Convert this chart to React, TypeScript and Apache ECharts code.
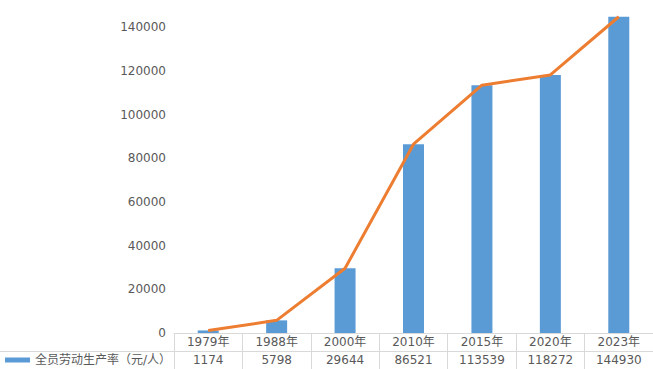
import React, { useEffect, useRef } from "react";
import * as echarts from "echarts";

const categories = ["1979年", "1988年", "2000年", "2010年", "2015年", "2020年", "2023年"];
const productivity = [1174, 5798, 29644, 86521, 113539, 118272, 144930];
const seriesName = "全员劳动生产率（元/人）";
const yMin = 0;
const yMax = 146000;
const yInterval = 20000;

const FONT = "'DejaVu Sans', 'Noto Sans CJK SC', sans-serif";
const TEXT = "#595959";
const BORDER = "#d9d9d9";

export default function App() {
  const ref = useRef<HTMLDivElement>(null);
  useEffect(() => {
    if (!ref.current) return;
    const chart = echarts.init(ref.current, undefined, { renderer: "svg" });
    chart.setOption({
      animation: false,
      textStyle: { fontFamily: FONT },
      grid: { left: 174, top: 14.4, bottom: 36, width: 483 },
      legend: {
        data: [seriesName],
        left: 5,
        top: 354,
        itemWidth: 25,
        itemHeight: 5,
        itemGap: 10,
        icon: "rect",
        textStyle: { color: TEXT, fontSize: 12, fontFamily: FONT },
        padding: 0,
      },
      xAxis: [
        {
          type: "category",
          data: categories,
          position: "bottom",
          axisLine: { show: true, lineStyle: { color: BORDER, width: 1 } },
          axisTick: { show: true, length: 36, interval: 0, lineStyle: { color: BORDER, width: 1 } },
          axisLabel: { color: TEXT, fontSize: 12, margin: 2, lineHeight: 14, interval: 0, fontFamily: FONT },
        },
        {
          type: "category",
          data: productivity.map((v) => String(v)),
          position: "bottom",
          offset: 18,
          axisLine: { show: false },
          axisTick: { show: false },
          axisLabel: { color: TEXT, fontSize: 12, margin: 2, lineHeight: 14, interval: 0, fontFamily: FONT },
        },
      ],
      yAxis: {
        type: "value",
        min: yMin,
        max: yMax,
        interval: yInterval,
        axisLine: { show: false },
        axisTick: { show: false },
        splitLine: { show: false },
        axisLabel: {
          color: TEXT,
          fontSize: 12,
          margin: 8,
          fontFamily: FONT,
          showMaxLabel: false,
          formatter: (v: number) => (v % yInterval === 0 ? String(v) : ""),
        },
      },
      graphic: [
        {
          type: "line",
          shape: { x1: 0, y1: 351.5, x2: 653, y2: 351.5 },
          style: { stroke: BORDER, lineWidth: 1 },
          silent: true,
        },
      ],
      series: [
        {
          name: seriesName,
          type: "bar",
          data: productivity,
          barWidth: 21,
          itemStyle: { color: "#5b9bd5" },
        },
        {
          name: "趋势",
          type: "line",
          data: productivity,
          showSymbol: false,
          symbol: "none",
          lineStyle: { color: "#ed7d31", width: 3 },
          itemStyle: { color: "#ed7d31" },
        },
      ],
    });
    return () => chart.dispose();
  }, []);
  return (
    <div
      ref={ref}
      style={{ position: "absolute", left: 0, top: 0, width: 653, height: 369 }}
    />
  );
}
